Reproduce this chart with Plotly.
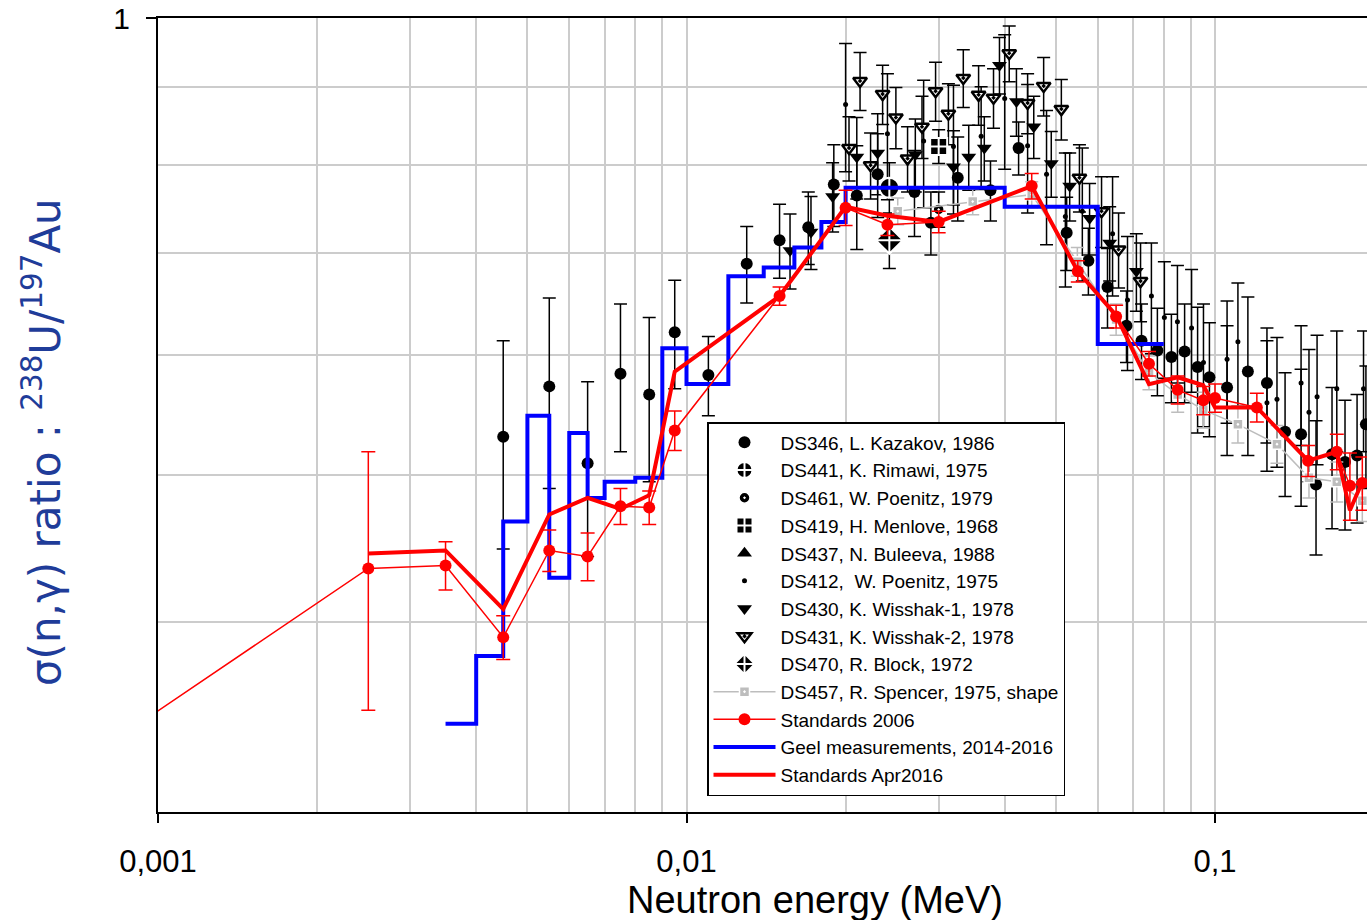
import plotly.graph_objects as go

# ---------------- data ----------------
# DS346, L. Kazakov, 1986
kaz_e = [0.0045, 0.0055, 0.0065, 0.0075, 0.0085, 0.0095, 0.0110, 0.0130, 0.0150, 0.0170,
         0.0190, 0.0210, 0.0230, 0.0270, 0.0290, 0.0326, 0.0376, 0.0425, 0.0524, 0.0576,
         0.0626, 0.0680, 0.0726, 0.0778, 0.0827, 0.0876, 0.0927, 0.0976, 0.1054, 0.1154,
         0.1254, 0.1357, 0.1455, 0.1553, 0.1665, 0.1762, 0.1857, 0.1930]
kaz_r = [0.530, 0.572, 0.509, 0.583, 0.565, 0.621, 0.582, 0.689, 0.714, 0.728,
         0.777, 0.764, 0.789, 0.768, 0.733, 0.785, 0.770, 0.821, 0.722, 0.692,
         0.665, 0.627, 0.613, 0.604, 0.598, 0.603, 0.589, 0.580, 0.571, 0.585,
         0.575, 0.534, 0.532, 0.493, 0.516, 0.510, 0.515, 0.540]
kaz_err = [0.083, 0.082, 0.067, 0.065, 0.070, 0.051, 0.035, 0.040, 0.040, 0.040,
           0.048, 0.060, 0.050, 0.050, 0.035, 0.050, 0.035, 0.033, 0.040, 0.035,
           0.040, 0.034, 0.035, 0.040, 0.040, 0.045, 0.056, 0.050, 0.056, 0.070,
           0.050, 0.050, 0.055, 0.050, 0.055, 0.050, 0.050, 0.050]

# DS441, K. Rimawi, 1975
rim_e = [0.0242]
rim_r = [0.773]
rim_err = [0.030]

# DS461, W. Poenitz, 1979
p79_e = [0.0300]
p79_r = [0.748]
p79_err = [0.020]

# DS419, H. Menlove, 1968
men_e = [0.0300]
men_r = [0.823]
men_err = [0.021]

# DS437, N. Buleeva, 1988 (no point inside the plotted energy window)
bul_e = [None]
bul_r = [None]

# DS412, W. Poenitz, 1975
p75_e = [0.0200, 0.0240, 0.0281, 0.0320, 0.0361, 0.0400, 0.0442, 0.0480, 0.0521, 0.0561,
         0.0640, 0.0683, 0.0758, 0.0802, 0.0849, 0.0903, 0.0951, 0.1054, 0.1105, 0.1254,
         0.1310, 0.1455, 0.1506, 0.1560, 0.1700, 0.1910]
p75_r = [0.877, 0.839, 0.830, 0.823, 0.836, 0.885, 0.824, 0.789, 0.740, 0.746,
         0.721, 0.652, 0.656, 0.635, 0.631, 0.625, 0.593, 0.596, 0.612, 0.558,
         0.561, 0.575, 0.550, 0.563, 0.570, 0.570]
p75_err = [0.085, 0.080, 0.080, 0.080, 0.065, 0.090, 0.080, 0.080, 0.075, 0.075,
           0.065, 0.066, 0.055, 0.056, 0.056, 0.058, 0.055, 0.055, 0.057, 0.055,
           0.055, 0.052, 0.055, 0.055, 0.052, 0.052]

# DS430, K. Wisshak-1, 1978
w1_e = [0.0157, 0.0172, 0.0189, 0.0210, 0.0230, 0.0271, 0.0320, 0.0342, 0.0366, 0.0391,
        0.0421, 0.0454, 0.0490, 0.0531, 0.0579, 0.0632, 0.0710]
w1_r = [0.703, 0.723, 0.763, 0.810, 0.815, 0.813, 0.798, 0.810, 0.821, 0.931,
        0.881, 0.848, 0.802, 0.775, 0.738, 0.711, 0.681]
w1_err = [0.040, 0.040, 0.040, 0.050, 0.050, 0.045, 0.045, 0.040, 0.040, 0.040,
          0.045, 0.040, 0.040, 0.040, 0.040, 0.040, 0.040]

# DS431, K. Wisshak-2, 1978
w2_e = [0.0203, 0.0213, 0.0223, 0.0235, 0.0249, 0.0262, 0.0279, 0.0296, 0.0313, 0.0334,
        0.0357, 0.0381, 0.0408, 0.0442, 0.0474, 0.0512, 0.0554, 0.0610, 0.0657, 0.0723]
w2_r = [0.821, 0.909, 0.800, 0.891, 0.860, 0.808, 0.848, 0.895, 0.865, 0.913,
        0.890, 0.886, 0.948, 0.879, 0.902, 0.871, 0.785, 0.746, 0.704, 0.671]
w2_err = [0.040] * 20

# DS470, R. Block, 1972
blk_e = [0.0242]
blk_r = [0.714]
blk_err = [0.030]

# DS457, R. Spencer, 1975, shape
spe_e = [0.0251, 0.0348, 0.0450, 0.0549, 0.0650, 0.0750, 0.0850, 0.0950, 0.1105, 0.1310,
         0.1506, 0.1700, 0.1900]
spe_r = [0.746, 0.757, 0.765, 0.691, 0.633, 0.584, 0.565, 0.552, 0.540, 0.524,
         0.498, 0.495, 0.481]
spe_err = [0.015] * 13

# Standards 2006
s06_e = [0.0005, 0.0025, 0.0035, 0.0045, 0.0055, 0.0065, 0.0075, 0.0085, 0.0095, 0.015,
         0.020, 0.024, 0.030, 0.045, 0.055, 0.065, 0.075, 0.085, 0.095, 0.100,
         0.120, 0.150, 0.170, 0.180, 0.190]
s06_r = [0.297, 0.434, 0.436, 0.391, 0.446, 0.442, 0.477, 0.476, 0.535, 0.656,
         0.750, 0.731, 0.734, 0.775, 0.681, 0.636, 0.592, 0.569, 0.560, 0.562,
         0.554, 0.511, 0.518, 0.492, 0.494]
s06_err = [0.030, 0.084, 0.016, 0.013, 0.014, 0.016, 0.013, 0.012, 0.016, 0.009,
           0.020, 0.012, 0.012, 0.015, 0.011, 0.011, 0.011, 0.012, 0.012, 0.012,
           0.012, 0.012, 0.014, 0.025, 0.020]

# Geel measurements, 2014-2016 (bin edges and bin values)
geel_edges = [0.0035, 0.004, 0.0045, 0.005, 0.0055, 0.006, 0.0065, 0.007, 0.008, 0.009,
              0.010, 0.012, 0.014, 0.016, 0.018, 0.020, 0.040, 0.060, 0.080]
geel_vals = [0.343, 0.380, 0.466, 0.547, 0.428, 0.533, 0.483, 0.495, 0.498, 0.606,
             0.574, 0.676, 0.685, 0.706, 0.734, 0.773, 0.751, 0.610]

# Standards Apr2016
s16_e = [0.0025, 0.0035, 0.0045, 0.0055, 0.0065, 0.0075, 0.0085, 0.0095, 0.015, 0.020,
         0.024, 0.030, 0.045, 0.055, 0.065, 0.075, 0.085, 0.095, 0.100, 0.120,
         0.150, 0.170, 0.180, 0.190]
s16_r = [0.444, 0.446, 0.408, 0.471, 0.483, 0.475, 0.485, 0.585, 0.656, 0.751,
         0.741, 0.734, 0.775, 0.681, 0.637, 0.574, 0.580, 0.573, 0.554, 0.554,
         0.511, 0.518, 0.474, 0.495]

x_ticks = [0.001, 0.01, 0.1]
x_tick_text = ["0,001", "0,01", "0,1"]
x_minor = [m * d for d in (0.001, 0.01, 0.1) for m in range(2, 10)]
y_grid = [0.4, 0.5, 0.6, 0.7, 0.8, 0.9]

# ---------------- figure ----------------
FONT = "Liberation Sans, Arial, sans-serif"
fig = go.Figure()


def err(arr, color="black", width=6.5, thick=1.5):
    return dict(type="data", array=arr, visible=True, color=color, thickness=thick, width=width)


def points(name, e, r, e_err, symbol, size, color="black", line_color="black",
           line_width=0, rank=0):
    fig.add_trace(go.Scatter(
        x=e, y=r, mode="markers", name=name, legendrank=rank, showlegend=True,
        error_y=err(e_err) if e_err is not None else None,
        marker=dict(symbol=symbol, size=size, color=color,
                    line=dict(color=line_color, width=line_width)),
    ))


points("DS346, L. Kazakov, 1986", kaz_e, kaz_r, kaz_err, "circle", 12, rank=1)
points("DS412,  W. Poenitz, 1975", p75_e, p75_r, p75_err, "circle", 5, rank=6)
points("DS430, K. Wisshak-1, 1978", w1_e, w1_r, w1_err, "triangle-down", 13, rank=7)
points("DS431, K. Wisshak-2, 1978", w2_e, w2_r, w2_err, "triangle-down-dot", 12,
       color="white", line_color="black", line_width=2.5, rank=8)
points("DS437, N. Buleeva, 1988", bul_e, bul_r, None, "triangle-up", 13, rank=5)
points("DS441, K. Rimawi, 1975", rim_e, rim_r, rim_err, "circle-cross", 20,
       line_color="white", line_width=2, rank=2)
points("DS461, W. Poenitz, 1979", p79_e, p79_r, p79_err, "circle-dot", 11,
       line_color="white", line_width=1.5, rank=3)
points("DS419, H. Menlove, 1968", men_e, men_r, men_err, "square-cross", 17,
       line_color="white", line_width=2, rank=4)
points("DS470, R. Block, 1972", blk_e, blk_r, blk_err, "diamond-cross", 21,
       line_color="white", line_width=2, rank=9)

fig.add_trace(go.Scatter(
    x=spe_e, y=spe_r, mode="lines+markers", name="DS457, R. Spencer, 1975, shape",
    legendrank=10,
    line=dict(color="#bdbdbd", width=1.5),
    error_y=err(spe_err, color="#bdbdbd"),
    marker=dict(symbol="square-dot", size=10, color="#bdbdbd",
                line=dict(color="white", width=1.5)),
))

fig.add_trace(go.Scatter(
    x=geel_edges, y=geel_vals + [geel_vals[-1]], mode="lines",
    name="Geel measurements, 2014-2016", legendrank=12,
    line=dict(color="#0000ff", width=4, shape="hv"),
))

fig.add_trace(go.Scatter(
    x=s06_e, y=s06_r, mode="lines+markers", name="Standards 2006", legendrank=11,
    line=dict(color="#ff0000", width=1.5),
    error_y=err(s06_err, color="#ff0000", width=7),
    marker=dict(symbol="circle", size=12, color="#ff0000"),
))

fig.add_trace(go.Scatter(
    x=s16_e, y=s16_r, mode="lines", name="Standards Apr2016", legendrank=13,
    line=dict(color="#ff0000", width=4),
))

grid_col = "#cccccc"
fig.update_xaxes(
    type="log", range=[-3, -3 + 1209 / 528.5],
    tickvals=x_ticks, ticktext=x_tick_text,
    ticks="outside", ticklen=9, tickwidth=2, tickcolor="black",
    ticklabelstandoff=12,
    tickfont=dict(family=FONT, size=31, color="black"),
    showgrid=True, gridcolor=grid_col, gridwidth=1.5,
    minor=dict(tickvals=x_minor, showgrid=True, gridcolor=grid_col, gridwidth=1.5, ticks=""),
    showline=True, linecolor="black", linewidth=2, mirror=True,
    zeroline=False,
)
fig.update_yaxes(
    type="log", range=[-0.5229, 0],
    tickvals=[1], ticktext=["1"],
    ticks="outside", ticklen=10, tickwidth=2, tickcolor="black",
    ticklabelstandoff=10,
    tickfont=dict(family=FONT, size=30, color="black"),
    showgrid=False,
    minor=dict(tickvals=y_grid, showgrid=True, gridcolor=grid_col, gridwidth=1.5, ticks=""),
    showline=True, linecolor="black", linewidth=2,
    zeroline=False,
)

fig.add_annotation(
    text="Neutron energy (MeV)", xref="paper", yref="paper",
    x=(815 - 158) / 1209, y=(812 - 900) / 794, xanchor="center", yanchor="middle",
    showarrow=False, font=dict(family=FONT, size=38, color="black"),
)
fig.add_annotation(
    text="σ(n,γ) ratio : <sup>238</sup>U/<sup>197</sup>Au", xref="paper", yref="paper",
    x=(42 - 158) / 1209, y=(812 - 442) / 794, xanchor="center", yanchor="middle",
    textangle=-90, showarrow=False,
    font=dict(family="DejaVu Sans, sans-serif", size=42, color="#1f3c99"),
)

fig.update_layout(
    width=1367, height=920,
    margin=dict(l=158, r=0, t=18, b=108),
    paper_bgcolor="white", plot_bgcolor="white",
    showlegend=True,
    legend=dict(
        x=(707 - 158) / 1209, y=(812 - 422) / 794, xanchor="left", yanchor="top",
        bgcolor="white", bordercolor="black", borderwidth=1.5,
        font=dict(family=FONT, size=19, color="black"),
        itemwidth=62, traceorder="normal",
    ),
)

fig.write_html("out.html")
